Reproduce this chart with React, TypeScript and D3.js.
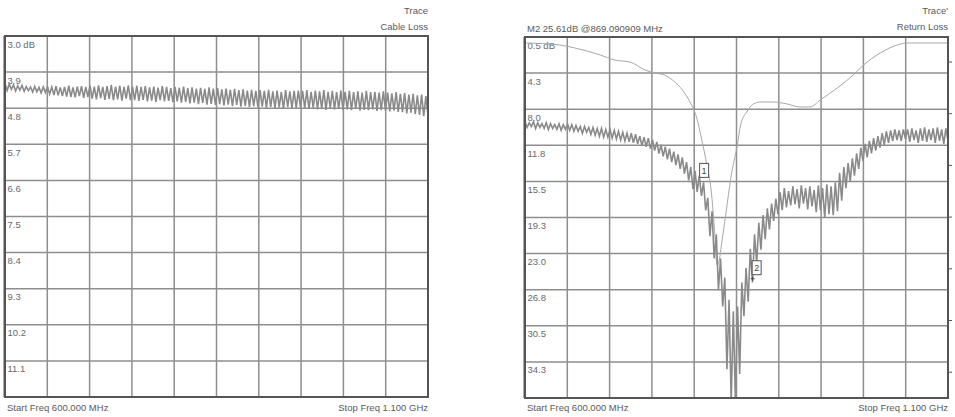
import React from "react";
import * as d3 from "d3";

const startFreq = 600;
const stopFreq = 1100;

const cableLossTicks = [3.0, 3.9, 4.8, 5.7, 6.6, 7.5, 8.4, 9.3, 10.2, 11.1];
const cableLossTickLabels = ["3.0 dB", "3.9", "4.8", "5.7", "6.6", "7.5", "8.4", "9.3", "10.2", "11.1"];

const cableLoss = [
  4.18, 4.36, 4.20, 4.33, 4.22, 4.37, 4.24, 4.35, 4.23, 4.38, 4.26, 4.36, 4.27, 4.40, 4.26, 4.39, 4.28, 4.42, 4.27, 4.41,
  4.26, 4.45, 4.27, 4.47, 4.25, 4.48, 4.28, 4.50, 4.27, 4.51, 4.24, 4.52, 4.28, 4.53, 4.26, 4.50, 4.25, 4.54, 4.27, 4.52,
  4.24, 4.56, 4.26, 4.58, 4.23, 4.55, 4.27, 4.59, 4.25, 4.57, 4.22, 4.60, 4.26, 4.58, 4.24, 4.61, 4.27, 4.56, 4.23, 4.60,
  4.26, 4.60, 4.24, 4.62, 4.27, 4.59, 4.25, 4.63, 4.28, 4.61, 4.26, 4.64, 4.29, 4.60, 4.25, 4.63, 4.27, 4.62, 4.30, 4.65,
  4.27, 4.63, 4.29, 4.66, 4.26, 4.64, 4.30, 4.68, 4.28, 4.66, 4.31, 4.70, 4.29, 4.67, 4.32, 4.71, 4.28, 4.69, 4.31, 4.72,
  4.30, 4.70, 4.33, 4.73, 4.31, 4.71, 4.34, 4.75, 4.32, 4.72, 4.35, 4.76, 4.33, 4.74, 4.36, 4.77, 4.34, 4.75, 4.37, 4.78,
  4.35, 4.76, 4.37, 4.79, 4.34, 4.77, 4.38, 4.80, 4.36, 4.78, 4.39, 4.81, 4.35, 4.77, 4.38, 4.80, 4.37, 4.79, 4.36, 4.78,
  4.37, 4.80, 4.35, 4.82, 4.39, 4.79, 4.36, 4.83, 4.38, 4.81, 4.35, 4.84, 4.39, 4.80, 4.37, 4.83, 4.40, 4.82, 4.36, 4.84,
  4.39, 4.83, 4.37, 4.85, 4.40, 4.82, 4.38, 4.86, 4.41, 4.84, 4.37, 4.85, 4.40, 4.83, 4.39, 4.87, 4.41, 4.85, 4.38, 4.86,
  4.41, 4.88, 4.43, 4.86, 4.40, 4.89, 4.44, 4.90, 4.42, 4.93, 4.46, 4.91, 4.44, 4.95, 4.48, 4.97, 4.46, 5.00, 4.50, 4.98,
];

const returnLossTicks = [0.5, 4.25, 8.0, 11.75, 15.5, 19.25, 23.0, 26.75, 30.5, 34.25];
const returnLossTickLabels = ["0.5 dB", "4.3", "8.0", "11.8", "15.5", "19.3", "23.0", "26.8", "30.5", "34.3"];

const returnLoss = [
  9.3, 9.9, 9.4, 9.8, 9.3, 10.0, 9.4, 9.9, 9.5, 10.0, 9.4, 10.1, 9.5, 10.0, 9.6, 10.1, 9.5, 10.2, 9.6, 10.1,
  9.5, 10.2, 9.6, 10.3, 9.7, 10.3, 9.8, 10.5, 9.8, 10.4, 9.9, 10.6, 9.9, 10.7, 10.0, 10.8, 10.0, 10.9, 10.1, 10.9,
  10.1, 11.0, 10.2, 11.1, 10.3, 11.2, 10.4, 11.3, 10.5, 11.4, 10.5, 11.5, 10.6, 11.6, 10.8, 11.8, 10.9, 11.9, 11.0, 12.1,
  11.2, 12.3, 11.4, 12.6, 11.7, 12.9, 11.9, 13.2, 12.1, 13.5, 12.4, 13.8, 12.7, 14.2, 13.0, 14.7, 13.5, 15.4, 14.0, 16.3,
  14.4, 16.6, 14.9, 17.0, 15.6, 18.5, 17.2, 21.2, 18.6, 23.5, 21.0, 26.8, 23.5, 28.5, 25.5, 35.0, 27.8, 38.5, 29.0, 38.5,
  28.5, 35.5, 26.0, 29.5, 24.5, 28.0, 22.5, 26.0, 21.0, 24.0, 19.8, 22.6, 19.0, 21.5, 18.3, 20.5, 17.8, 19.6, 17.3, 18.9,
  16.6, 18.5, 16.2, 18.2, 16.5, 18.0, 16.0, 17.9, 16.3, 18.3, 15.9, 17.8, 16.2, 18.4, 16.0, 18.1, 16.4, 18.7, 15.9, 18.5,
  16.2, 19.3, 15.8, 18.9, 16.0, 19.0, 15.6, 18.6, 14.6, 17.5, 14.0, 16.2, 13.6, 15.5, 13.1, 14.9, 12.6, 14.2, 12.0, 13.4,
  11.6, 13.0, 11.3, 12.6, 11.0, 12.3, 10.8, 12.0, 10.5, 11.7, 10.3, 11.5, 10.2, 11.3, 10.1, 11.2, 10.2, 11.3, 10.1, 11.1,
  10.1, 11.4, 10.0, 11.2, 10.2, 11.5, 10.0, 11.3, 9.9, 11.4, 10.1, 11.2, 10.0, 11.5, 9.9, 11.3, 10.1, 11.6, 10.0, 11.3,
];

const referenceFreqs = [600, 641, 659, 689, 706, 724, 742, 754, 765, 777, 786, 795, 803, 809, 815, 820, 824, 827, 829, 833, 838, 843, 851, 855, 862, 870, 878, 893, 910, 925, 937, 949, 969, 988, 999, 1020, 1040, 1052, 1100];
const referenceDb = [1.12, 1.33, 1.64, 2.37, 2.89, 3.10, 3.93, 4.24, 4.45, 5.17, 6.0, 7.25, 8.9, 11.2, 13.8, 16.4, 20.5, 24.2, 23.9, 21.6, 18.5, 15.3, 11.7, 9.6, 8.3, 7.46, 7.25, 7.25, 7.46, 7.77, 7.77, 7.04, 5.80, 4.45, 3.51, 2.16, 1.33, 1.12, 1.12];

const markerLabels = ["1", "2"];
const markerFreqs = [807, 869.090909];
const markerDb = [15.5, 25.61];

const FONT = "'Liberation Sans', Arial, sans-serif";
const TEXT = "#5a5a5a";

type PanelProps = {
  x0: number; x1: number; y0: number; y1: number;
  dbDomain: [number, number];
  ticks: number[]; tickLabels: string[];
  values: number[];
  titleTop: string; titleBottom: string;
  id: string;
  children?: (x: d3.ScaleLinear<number, number>, y: d3.ScaleLinear<number, number>) => React.ReactNode;
};

function Panel({ x0, x1, y0, y1, dbDomain, ticks, tickLabels, values, titleTop, titleBottom, id, children }: PanelProps) {
  const x = d3.scaleLinear().domain([startFreq, stopFreq]).range([x0, x1]);
  const y = d3.scaleLinear().domain(dbDomain).range([y0, y1]);
  const n = values.length;
  const line = d3.line<number>()
    .x((_, i) => x(startFreq + (i * (stopFreq - startFreq)) / (n - 1)))
    .y((d) => y(d));
  const vGrid = d3.range(1, 10).map((k) => startFreq + (k * (stopFreq - startFreq)) / 10);
  return (
    <g>
      <defs>
        <clipPath id={id}>
          <rect x={x0} y={y0} width={x1 - x0} height={y1 - y0} />
        </clipPath>
      </defs>
      <rect x={x0} y={y0} width={x1 - x0} height={y1 - y0} fill="#fff" />
      {vGrid.map((f) => (
        <line key={"v" + f} x1={x(f)} x2={x(f)} y1={y0} y2={y1} stroke="#8e8e8e" strokeWidth={1.5} />
      ))}
      {ticks.slice(1).map((t) => (
        <line key={"h" + t} x1={x0} x2={x1} y1={y(t)} y2={y(t)} stroke="#8e8e8e" strokeWidth={1.5} />
      ))}
      {tickLabels.map((lab, i) => (
        <text key={"l" + i} x={x0 + 2.5} y={y(ticks[i]) + 11.5} fontSize={9.5} fill="#6a6a6a" fontFamily={FONT}>{lab}</text>
      ))}
      <g clipPath={`url(#${id})`}>
        {children ? children(x, y) : null}
        <path d={line(values) || ""} fill="none" stroke="#8a8a8a" strokeWidth={1.6} strokeLinejoin="miter" />
      </g>
      <rect x={x0} y={y0} width={x1 - x0} height={y1 - y0} fill="none" stroke="#555" strokeWidth={2} />
      <line x1={x0 - 0.5} x2={x0 - 0.5} y1={y0} y2={y1} stroke="#555" strokeWidth={2} />
      <text x={x1} y={14} textAnchor="end" fontSize={9.5} fill={TEXT} fontFamily={FONT}>{titleTop}</text>
      <text x={x1} y={30} textAnchor="end" fontSize={9.5} fill={TEXT} fontFamily={FONT}>{titleBottom}</text>
      <text x={x0 + 2} y={411} fontSize={9.5} fill={TEXT} fontFamily={FONT}>Start Freq 600.000 MHz</text>
      <text x={x1} y={411} textAnchor="end" fontSize={9.5} fill={TEXT} fontFamily={FONT}>Stop Freq 1.100 GHz</text>
    </g>
  );
}

export default function App() {
  return (
    <div style={{ position: "fixed", left: 0, top: 0 }}>
      <svg width={955} height={417} style={{ display: "block", background: "#fff" }}>
        <Panel
          id="clipL" x0={5} x1={428} y0={36} y1={397}
          dbDomain={[3.0, 12.0]} ticks={cableLossTicks} tickLabels={cableLossTickLabels}
          values={cableLoss} titleTop="Trace" titleBottom="Cable Loss"
        />
        <Panel
          id="clipR" x0={525} x1={948} y0={37} y1={398}
          dbDomain={[0.5, 38.0]} ticks={returnLossTicks} tickLabels={returnLossTickLabels}
          values={returnLoss} titleTop="Trace'" titleBottom="Return Loss"
        >
          {(x, y) => {
            const refLine = d3.line<number>()
              .x((_, i) => x(referenceFreqs[i]))
              .y((d) => y(d))
              .curve(d3.curveMonotoneX);
            return (
              <path d={refLine(referenceDb) || ""} fill="none" stroke="#a8a8a8" strokeWidth={1} />
            );
          }}
        </Panel>
        {(() => {
          const x = d3.scaleLinear().domain([startFreq, stopFreq]).range([525, 948]);
          const y = d3.scaleLinear().domain([0.5, 38.0]).range([37, 398]);
          return (
            <g>
              {markerLabels.map((lab, i) => {
                const px = x(markerFreqs[i]);
                const py = y(markerDb[i]);
                return (
                  <g key={lab}>
                    <rect x={px - 0.5} y={py - 18} width={9} height={14} fill="#fff" stroke="#555" strokeWidth={1} />
                    <text x={px + 4} y={py - 7.5} textAnchor="middle" fontSize={9} fill="#444" fontFamily={FONT}>{lab}</text>
                    {i === 1 ? (
                      <path d={`M${px - 2},${py} L${px + 2},${py} M${px},${py - 2} L${px},${py + 2}`} stroke="#444" strokeWidth={1} />
                    ) : null}
                  </g>
                );
              })}
              {d3.range(7).map((k) => (
                <line key={"rt" + k} x1={949} x2={952} y1={62 + k * 51.7} y2={62 + k * 51.7} stroke="#555" strokeWidth={1} />
              ))}
              <text x={527} y={32} fontSize={9.5} fill={TEXT} fontFamily={FONT}>M2 25.61dB @869.090909 MHz</text>
            </g>
          );
        })()}
      </svg>
    </div>
  );
}
